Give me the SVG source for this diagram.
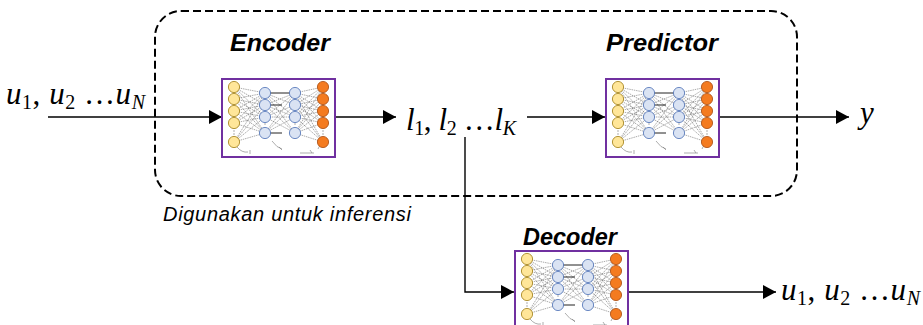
<svg xmlns="http://www.w3.org/2000/svg" xmlns:xlink="http://www.w3.org/1999/xlink" width="923" height="325" viewBox="0 0 923 325">
  <style>
    .label { font-family: "Liberation Sans", Arial, sans-serif; font-weight: bold; font-style: italic; font-size: 23px; fill: #000; }
    .note { font-family: "Liberation Sans", Arial, sans-serif; font-style: italic; font-size: 20px; fill: #000; }
    .math { font-family: "Liberation Serif", "DejaVu Serif", serif; font-size: 31px; fill: #000; }
    .mi { font-style: italic; }
    .sub { font-size: 20px; }
    .wire { fill: none; stroke: #000; stroke-width: 1.4; }
    .frame { fill: #fff; stroke: #7030A0; stroke-width: 2; }
    .group { fill: none; stroke: #000; stroke-width: 2; stroke-dasharray: 8 4; }
    .syn { stroke: #666; stroke-width: 0.55; stroke-dasharray: 1.5 0.8; }
    .bold-syn { stroke: #222; stroke-width: 1; }
    .in { fill: #FFE699; stroke: #A07C10; stroke-width: 0.8; }
    .hid { fill: #DAE3F3; stroke: #4A6FB5; stroke-width: 0.8; }
    .out { fill: #F47B20; stroke: #A84A0C; stroke-width: 0.8; }
    .tick { fill: none; stroke: #777; stroke-width: 0.6; }
  </style>
  <defs>
    <marker id="arrow" markerUnits="userSpaceOnUse" markerWidth="14" markerHeight="14" refX="13" refY="7" orient="auto">
      <path d="M0,0 L13,7 L0,14 z" fill="#000"/>
    </marker>
    <!-- small fully connected network icon, drawn in a 113 x 78 frame -->
    <symbol id="net" viewBox="0 0 113 78">
      <g class="syn">
        <!-- input layer to first hidden layer -->
        <path d="M12,8 L43,14 M12,8 L43,26 M12,8 L43,38 M12,8 L43,54
                 M12,20 L43,14 M12,20 L43,26 M12,20 L43,38 M12,20 L43,54
                 M12,32 L43,14 M12,32 L43,26 M12,32 L43,38 M12,32 L43,54
                 M12,44 L43,14 M12,44 L43,26 M12,44 L43,38 M12,44 L43,54
                 M12,63 L43,14 M12,63 L43,26 M12,63 L43,38 M12,63 L43,54"/>
        <!-- first hidden layer to second hidden layer -->
        <path d="M43,14 L73,26 M43,14 L73,38 M43,14 L73,54
                 M43,26 L73,14 M43,26 L73,38 M43,26 L73,54
                 M43,38 L73,14 M43,38 L73,26 M43,38 L73,38 M43,38 L73,54
                 M43,54 L73,14 M43,54 L73,26 M43,54 L73,38"/>
        <!-- second hidden layer to output layer -->
        <path d="M73,14 L101,8 M73,14 L101,20 M73,14 L101,32 M73,14 L101,44 M73,14 L101,63
                 M73,26 L101,8 M73,26 L101,20 M73,26 L101,32 M73,26 L101,44 M73,26 L101,63
                 M73,38 L101,8 M73,38 L101,20 M73,38 L101,32 M73,38 L101,44 M73,38 L101,63
                 M73,54 L101,8 M73,54 L101,20 M73,54 L101,32 M73,54 L101,44 M73,54 L101,63"/>
      </g>
      <path class="bold-syn" d="M48,14 L68,14 M48,26 L60,26 M48,54 L60,54"/>
      <!-- layer gaps -->
      <path class="tick" d="M11,52 L13,52 M11,55 L13,55 M100,52 L102,52 M100,55 L102,55 M42,45 L44,45 M72,45 L74,45"/>
      <!-- little index marks under the layers -->
      <path class="tick" d="M15,68 Q20,74 26,73 M28,71 L28,75 M50,62 Q55,69 60,70 M57,68 L60,71 M78,74 L92,74 M88,71 L90,74 M96,70 L98,66"/>
      <g class="in">
        <circle cx="12" cy="8" r="5.6"/><circle cx="12" cy="20" r="5.6"/><circle cx="12" cy="32" r="5.6"/><circle cx="12" cy="44" r="5.6"/><circle cx="12" cy="63" r="5.6"/>
      </g>
      <g class="hid">
        <circle cx="43" cy="14" r="5.6"/><circle cx="43" cy="26" r="5.6"/><circle cx="43" cy="38" r="5.6"/><circle cx="43" cy="54" r="5.6"/>
        <circle cx="73" cy="14" r="5.6"/><circle cx="73" cy="26" r="5.6"/><circle cx="73" cy="38" r="5.6"/><circle cx="73" cy="54" r="5.6"/>
      </g>
      <g class="out">
        <circle cx="101" cy="8" r="5.6"/><circle cx="101" cy="20" r="5.6"/><circle cx="101" cy="32" r="5.6"/><circle cx="101" cy="44" r="5.6"/><circle cx="101" cy="63" r="5.6"/>
      </g>
    </symbol>
  </defs>

  <rect width="923" height="325" fill="#fff"/>

  <!-- inference boundary -->
  <g id="inference-group">
    <rect class="group" x="155" y="11" width="642" height="185" rx="26" ry="26"/>
    <text class="note" x="163" y="221" textLength="248" lengthAdjust="spacing">Digunakan untuk inferensi</text>
  </g>

  <!-- connectors -->
  <g id="connectors">
    <path class="wire" d="M48,117 L222,117" marker-end="url(#arrow)"/>
    <path class="wire" d="M336,117 L396,117" marker-end="url(#arrow)"/>
    <path class="wire" d="M527,117 L605,117" marker-end="url(#arrow)"/>
    <path class="wire" d="M719,117 L849,117" marker-end="url(#arrow)"/>
    <path class="wire" d="M465,137 L465,292 L514,292" marker-end="url(#arrow)"/>
    <path class="wire" d="M628,292 L776,292" marker-end="url(#arrow)"/>
  </g>

  <g id="input">
    <text class="math" x="6" y="104" textLength="139" lengthAdjust="spacing"><tspan class="mi">u</tspan><tspan class="sub" dy="5">1</tspan><tspan dy="-5">, </tspan><tspan class="mi">u</tspan><tspan class="sub" dy="5">2</tspan><tspan dy="-5"> …</tspan><tspan class="mi">u</tspan><tspan class="sub mi" dy="5">N</tspan></text>
  </g>

  <g id="encoder">
    <text class="label" x="280" y="51" text-anchor="middle" textLength="100" lengthAdjust="spacingAndGlyphs">Encoder</text>
    <rect class="frame" x="222" y="79" width="113" height="78"/>
    <use xlink:href="#net" href="#net" x="222" y="79" width="113" height="78"/>
  </g>

  <g id="latent">
    <text class="math" x="406" y="130" textLength="110" lengthAdjust="spacing"><tspan class="mi">l</tspan><tspan class="sub" dy="5">1</tspan><tspan dy="-5">, </tspan><tspan class="mi">l</tspan><tspan class="sub" dy="5">2</tspan><tspan dy="-5"> …</tspan><tspan class="mi">l</tspan><tspan class="sub mi" dy="5">K</tspan></text>
  </g>

  <g id="predictor">
    <text class="label" x="662" y="51" text-anchor="middle" textLength="112" lengthAdjust="spacingAndGlyphs">Predictor</text>
    <rect class="frame" x="606" y="79" width="113" height="78"/>
    <use xlink:href="#net" href="#net" x="606" y="79" width="113" height="78"/>
  </g>

  <g id="output-y">
    <text class="math mi" x="860" y="123">y</text>
  </g>

  <g id="decoder">
    <text class="label" x="570" y="245" text-anchor="middle" textLength="94" lengthAdjust="spacingAndGlyphs">Decoder</text>
    <rect class="frame" x="515" y="251" width="113" height="78"/>
    <use xlink:href="#net" href="#net" x="515" y="251" width="113" height="78"/>
  </g>

  <g id="reconstruction">
    <text class="math" x="781" y="300" textLength="139" lengthAdjust="spacing"><tspan class="mi">u</tspan><tspan class="sub" dy="5">1</tspan><tspan dy="-5">, </tspan><tspan class="mi">u</tspan><tspan class="sub" dy="5">2</tspan><tspan dy="-5"> …</tspan><tspan class="mi">u</tspan><tspan class="sub mi" dy="5">N</tspan></text>
  </g>
</svg>
